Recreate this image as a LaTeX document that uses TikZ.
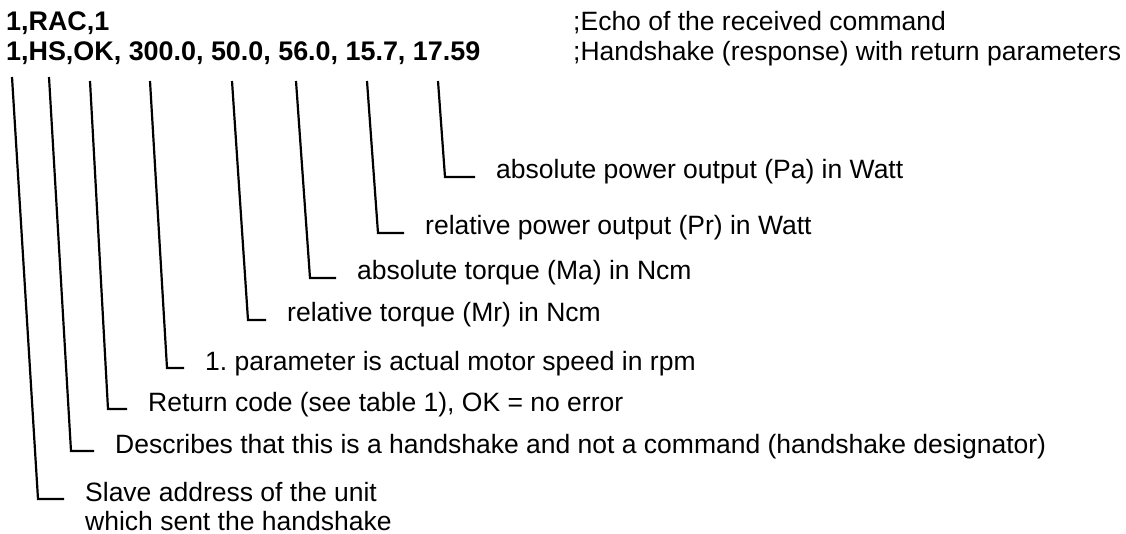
\documentclass[tikz,border=0pt]{standalone}
\usepackage{fontspec}
\setmainfont{Liberation Sans}
\newcommand\txtsize{\fontsize{26.5}{29}\selectfont}
\tikzset{code/.style={anchor=base west,inner sep=0pt,font=\fontsize{26.9}{29}\selectfont\bfseries},note/.style={anchor=base west,inner sep=0pt,font=\txtsize},
lbl/.style={anchor=base west,inner xsep=21pt,inner ysep=0pt,align=left,font=\txtsize},leg/.style={line width=2.2pt}}
\begin{document}
\begin{tikzpicture}[x=1pt,y=-1pt]
\useasboundingbox(0,0)rectangle(1126,534);
\node[code](cmd)at(6,31){1,RAC,1};\node[code](hsk)at(6,61){1,HS,OK, 300.0, 50.0, 56.0, 15.7, 17.59};
\node[note](cmdnote)at(573,31){;Echo of the received command};\node[note](hsknote)at(573,61){;Handshake (response) with return parameters};
\node[lbl](pa)at(475,179){absolute power output (Pa) in Watt};
\node[lbl](pr)at(404,235){relative power output (Pr) in Watt};
\node[lbl](ma)at(336,280){absolute torque (Ma) in Ncm};
\node[lbl](mr)at(266,322){relative torque (Mr) in Ncm};
\node[lbl](sp)at(184,370){1.\ parameter is actual motor speed in rpm};
\node[lbl](rc)at(127,411){Return code (see table 1), OK = no error};
\node[lbl](hs)at(94,453){Describes that this is a handshake and not a command (handshake designator)};
% base of a two-line node is its last line
\node[lbl](sa)at(64,530){Slave address of the unit\\which sent the handshake};
\foreach\n/\tx/\ty/\cx/\cy in{pa/438/81/445/177,pr/367/81/378/233,ma/296/81/310/278,mr/232/81/248/320,
  sp/150/81/167/368,rc/90/81/108/409,hs/49/77/71/451,sa/12/77/38/499}{\coordinate(t\n)at(\tx,\ty);\coordinate(c\n)at(\cx,\cy);}
\foreach\n in{pa,pr,ma,mr,sp,rc,hs,sa}\draw[leg](t\n)--(c\n)--(c\n-|\n.west);
\end{tikzpicture}
\end{document}
